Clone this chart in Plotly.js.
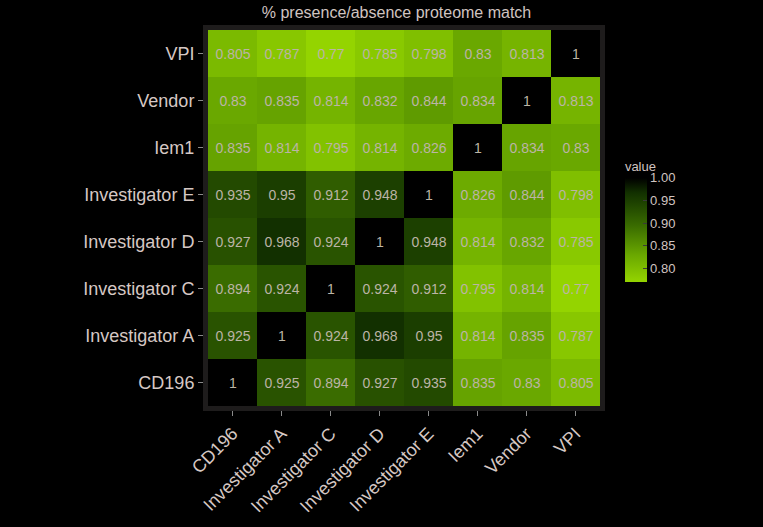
<!DOCTYPE html>
<html>
<head>
<meta charset="utf-8">
<script src="https://cdn.plot.ly/plotly-3.0.1.min.js"></script>
<style>html,body{margin:0;padding:0;background:#000;}#chart{width:763px;height:527px;}</style>
</head>
<body>
<div id="chart"></div>
<script>
const categories = ["CD196", "Investigator A", "Investigator C", "Investigator D", "Investigator E", "Iem1", "Vendor", "VPI"];
// rows in the same order as categories (bottom to top), columns in category order
const rowCD196 = [1, 0.925, 0.894, 0.927, 0.935, 0.835, 0.83, 0.805];
const rowInvA  = [0.925, 1, 0.924, 0.968, 0.95, 0.814, 0.835, 0.787];
const rowInvC  = [0.894, 0.924, 1, 0.924, 0.912, 0.795, 0.814, 0.77];
const rowInvD  = [0.927, 0.968, 0.924, 1, 0.948, 0.814, 0.832, 0.785];
const rowInvE  = [0.935, 0.95, 0.912, 0.948, 1, 0.826, 0.844, 0.798];
const rowIem1  = [0.835, 0.814, 0.795, 0.814, 0.826, 1, 0.834, 0.83];
const rowVendor= [0.83, 0.835, 0.814, 0.832, 0.844, 0.834, 1, 0.813];
const rowVPI   = [0.805, 0.787, 0.77, 0.785, 0.798, 0.83, 0.813, 1];
const colorbarTicks = [0.80, 0.85, 0.90, 0.95, 1.00];
const colorbarTickText = ["0.80", "0.85", "0.90", "0.95", "1.00"];

const z = [rowCD196, rowInvA, rowInvC, rowInvD, rowInvE, rowIem1, rowVendor, rowVPI];
const text = z.map(r => r.map(v => String(v)));

const zmin = 0.77, zmax = 1.0;
const colorscale = [
  [0.0, '#94d400'],
  [0.26, '#6aa800'],
  [0.54, '#3a6c00'],
  [0.72, '#234a00'],
  [0.86, '#123000'],
  [1.0, '#000000']
];

const trace = {
  type: 'heatmap',
  x: categories, y: categories, z: z,
  text: text, texttemplate: '%{text}',
  textfont: {family: 'Liberation Sans, Arial, sans-serif', size: 14, color: '#bcb4a6'},
  zmin: zmin, zmax: zmax, colorscale: colorscale,
  xgap: 0, ygap: 0,
  hoverinfo: 'x+y+z',
  colorbar: {
    x: 1.038, xanchor: 'left', xpad: 10,
    y: 0.495, yanchor: 'middle', ypad: 0,
    len: 124, lenmode: 'pixels', thickness: 22,
    outlinewidth: 0,
    tickvals: colorbarTicks, ticktext: colorbarTickText,
    ticks: 'inside', ticklen: 4, tickcolor: '#3a3a3a',
    tickfont: {family: 'Liberation Sans, Arial, sans-serif', size: 13, color: '#d0c4c0'},
    title: {text: 'value', side: 'top', font: {family: 'Liberation Sans, Arial, sans-serif', size: 13, color: '#d0c4c0'}}
  }
};

const axisFont = {family: 'Liberation Sans, Arial, sans-serif', size: 18, color: '#d6c8c4'};
const layout = {
  width: 763, height: 527,
  paper_bgcolor: '#000000', plot_bgcolor: '#000000',
  margin: {l: 208, r: 163, t: 30, b: 121},
  title: {text: '% presence/absence proteome match', x: 0.5197, xanchor: 'center', y: 0.977, yanchor: 'middle',
          font: {family: 'Liberation Sans, Arial, sans-serif', size: 16, color: '#d0c4c0'}},
  xaxis: {type: 'category', categoryorder: 'array', categoryarray: categories,
          tickangle: -45, tickfont: axisFont, ticks: 'outside', ticklen: 9, tickcolor: '#8a8a8a', tickwidth: 1,
          showgrid: false, zeroline: false, showline: false},
  yaxis: {type: 'category', categoryorder: 'array', categoryarray: categories,
          tickfont: axisFont, ticks: 'outside', ticklen: 9, tickcolor: '#8a8a8a', tickwidth: 1,
          showgrid: false, zeroline: false, showline: false},
  shapes: [{
    type: 'rect', xref: 'paper', yref: 'paper', layer: 'above',
    x0: -2.5/392, x1: 1 + 2.5/392, y0: -2.5/376, y1: 1 + 2.5/376,
    line: {color: '#1e1c1c', width: 5}, fillcolor: 'rgba(0,0,0,0)'
  }]
};

Plotly.newPlot('chart', [trace], layout, {displayModeBar: false, staticPlot: true});
</script>
</body>
</html>
